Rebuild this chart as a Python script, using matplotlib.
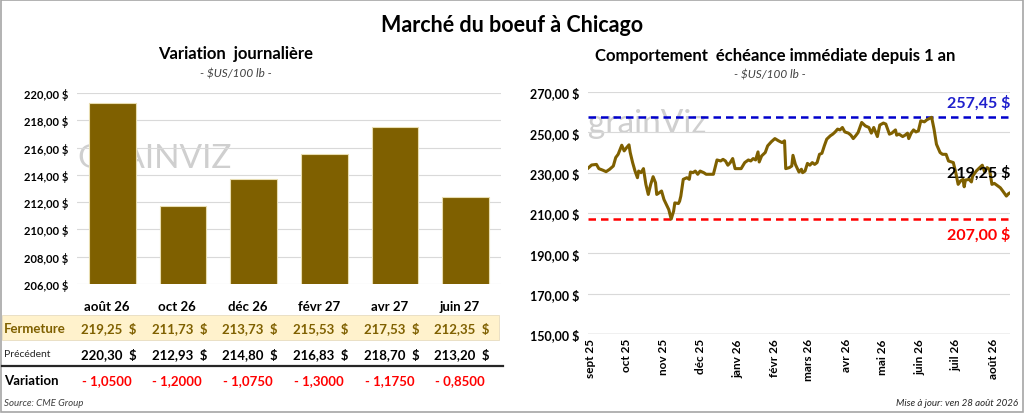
import pandas as pd
import matplotlib
matplotlib.use("Agg")
import matplotlib.pyplot as plt
import matplotlib.transforms as mtransforms
from matplotlib.patches import Rectangle
from matplotlib.ticker import FuncFormatter, FixedLocator

plt.rcParams['font.family'] = ['Lato', 'DejaVu Sans']

# Left panel: contracts
contracts = ["août 26", "oct 26", "déc 26", "févr 27", "avr 27", "juin 27"]
close_prices = [219.25, 211.73, 213.73, 215.53, 217.53, 212.35]
prev_prices = [220.30, 212.93, 214.80, 216.83, 218.70, 213.20]
variations = [-1.0500, -1.2000, -1.0750, -1.3000, -1.1750, -0.8500]

# Right panel: front month over one year (days since 2025-09-01)
days = [-2, 1, 5, 7, 10, 13, 16, 19, 21, 23, 26, 28, 30, 32, 33, 35, 37, 39, 40, 42,
        44, 46, 48, 50, 52, 54, 55, 57, 59, 61, 63, 65, 67, 69, 70, 73, 74, 75, 77, 80,
        82, 83, 85, 87, 89, 91, 94, 96, 102, 105, 108, 110, 112, 114, 116, 118, 120, 125,
        128, 131, 133, 135, 137, 139, 140, 142, 145, 147, 150, 153, 156, 159, 161, 162,
        165, 167, 168, 170, 173, 175, 176, 178, 180, 182, 184, 186, 188, 190, 192, 194,
        196, 199, 201, 203, 205, 207, 209, 211, 214, 216, 218, 220, 222, 225, 228, 231,
        233, 235, 238, 240, 243, 245, 248, 250, 253, 254, 256, 259, 261, 263, 264, 266,
        268, 270, 272, 274, 277, 279, 283, 285, 287, 290, 292, 295, 297, 301, 303, 305,
        307, 309, 310, 311, 314, 316, 317, 320, 322, 325, 327, 329, 331, 333, 335, 338,
        340, 342, 345, 347, 348]
prices = [232.2, 233.8, 234.1, 232.0, 231.3, 230.5, 231.7, 233.3, 237.5, 239.1, 243.6, 240.8,
          242.4, 243.8, 240.0, 235.0, 230.8, 227.5, 230.8, 230.0, 232.0, 224.2, 219.2, 224.2,
          228.0, 225.0, 219.2, 220.0, 220.9, 216.7, 214.2, 211.7, 207.0, 210.9, 215.0, 214.7,
          215.9, 218.4, 226.7, 227.5, 226.7, 230.3, 230.0, 230.8, 229.2, 230.8, 230.0, 229.2,
          229.2, 236.3, 235.8, 236.6, 235.8, 233.7, 235.0, 237.0, 232.0, 232.0, 235.0, 236.3,
          235.8, 237.0, 236.3, 240.3, 235.3, 238.3, 240.0, 243.3, 245.3, 246.9, 245.8, 244.9,
          245.8, 232.0, 232.5, 233.3, 238.6, 234.1, 230.3, 231.7, 230.0, 230.8, 234.6, 233.7,
          235.0, 234.1, 235.0, 239.1, 239.6, 243.3, 246.6, 248.3, 249.1, 250.2, 251.6, 251.2,
          252.4, 250.2, 249.6, 248.6, 246.9, 248.3, 249.9, 254.9, 253.2, 252.4, 249.6, 252.4,
          247.9, 253.6, 254.6, 254.1, 249.1, 249.6, 251.2, 248.6, 249.1, 247.9, 248.6, 249.6,
          246.9, 249.6, 251.2, 250.2, 250.7, 255.7, 255.2, 256.2, 257.45, 251.6, 244.1, 240.0,
          239.1, 239.1, 235.8, 235.0, 230.0, 224.2, 225.9, 226.7, 223.0, 226.3, 226.7, 225.4,
          228.3, 230.8, 232.0, 233.7, 230.3, 232.5, 231.7, 224.2, 224.7, 223.4, 222.5, 220.9,
          218.4, 219.7, 220.0]
month_labels = ["sept 25", "oct 25", "nov 25", "déc 25", "janv 26", "févr 26", "mars 26",
                "avr 26", "mai 26", "juin 26", "juil 26", "août 26"]
high_1y = 257.45
low_1y = 207.00
last_close = 219.25

GOLD = "#7F6000"
GRID = "#D9D9D9"
W, H = 1024, 414


def fx(px):
    return px / W


def fy(px):
    return 1 - px / H


def money(v, pos=None):
    return f"{v:.2f}".replace(".", ",") + " $"


fig = plt.figure(figsize=(W / 100, H / 100), dpi=100)
fig.patches.append(Rectangle((0.001, 0.002), 0.998, 0.996, transform=fig.transFigure,
                             fill=False, edgecolor="#A6A6A6", linewidth=1.2))

fig.text(0.5, fy(25), "Marché du boeuf à Chicago", ha="center", va="center",
         fontsize=15.5, fontweight="bold")

# ---- left: daily variation bars
ax1 = fig.add_axes([fx(77), fy(285), fx(501 - 77), (285 - 94) / H])
x = range(len(contracts))
ax1.bar(x, close_prices, width=0.66, color=GOLD, edgecolor="#E8DDB0", linewidth=0.8, zorder=2)
ax1.set_xlim(-0.5, len(contracts) - 0.5)
ax1.set_ylim(206, 220)
ax1.set_yticks(range(206, 221, 2))
ax1.yaxis.set_major_formatter(FuncFormatter(money))
ax1.set_xticks([])
ax1.grid(axis="y", color=GRID, linewidth=0.8, zorder=0)
for s in ax1.spines.values():
    s.set_visible(False)
ax1.tick_params(axis="y", length=0, labelsize=8, pad=6)
for lab in ax1.get_yticklabels():
    lab.set_fontweight("bold")
ax1.text(0.0, 0.66, "GRAINVIZ", transform=ax1.transAxes, fontsize=24, color="#CFCFCF",
         zorder=1, va="center")

fig.text(fx(236), fy(54), "Variation  journalière", ha="center", va="center",
         fontsize=12, fontweight="bold")
fig.text(fx(236), fy(74), "- $US/100 lb -", ha="center", va="center",
         fontsize=8.5, style="italic", color="#404040")

# table under the bars
tr = mtransforms.blended_transform_factory(ax1.transData, fig.transFigure)
fig.patches.append(Rectangle((0.002, fy(341)), fx(497), (341 - 316) / H, transform=fig.transFigure,
                             facecolor="#FFF2CC", edgecolor="#E6DCC0", linewidth=0.6, zorder=0))
fig.lines.append(plt.Line2D([0.002, fx(503)], [fy(367), fy(367)], transform=fig.transFigure,
                            color="#262626", linewidth=1.6))
for i in x:
    fig.text(i - 0.08, fy(307), contracts[i], transform=tr, ha="center", va="center",
             fontsize=9.5, fontweight="bold")
    fig.text(i - 0.05, fy(329), f"{close_prices[i]:.2f}".replace(".", ",") + "  $", transform=tr,
             ha="center", va="center", fontsize=9.5, fontweight="bold", color=GOLD)
    fig.text(i - 0.05, fy(355), f"{prev_prices[i]:.2f}".replace(".", ",") + "  $", transform=tr,
             ha="center", va="center", fontsize=9.5, fontweight="bold", color="black")
    fig.text(i - 0.08, fy(381), f"- {abs(variations[i]):.4f}".replace(".", ","), transform=tr,
             ha="center", va="center", fontsize=9.5, fontweight="bold", color="#FF0000")
fig.text(fx(4), fy(329), "Fermeture", ha="left", va="center", fontsize=9.5,
         fontweight="bold", color=GOLD)
fig.text(fx(4), fy(355), "Précédent", ha="left", va="center", fontsize=7.5, color="#262626")
fig.text(fx(4), fy(381), "Variation", ha="left", va="center", fontsize=9.5, fontweight="bold")
fig.text(fx(4), fy(404), "Source: CME Group", ha="left", va="center", fontsize=7,
         style="italic", color="#404040")

# ---- right: front month over one year
dates = pd.Timestamp("2025-09-01") + pd.to_timedelta(days, unit="D")
ax2 = fig.add_axes([fx(588), fy(335), fx(1010 - 588), (335 - 93) / H])
ax2.plot(dates, prices, color=GOLD, linewidth=2.2, zorder=3)
ax2.axhline(high_1y, color="#0000CC", linestyle=(0, (3, 2)), linewidth=1.8, zorder=2)
ax2.axhline(low_1y, color="#FF0000", linestyle=(0, (3, 2)), linewidth=1.8, zorder=2)
ax2.set_xlim(dates[0], dates[-1])
ax2.set_ylim(150, 270)
ax2.set_yticks(range(150, 271, 20))
ax2.yaxis.set_major_formatter(FuncFormatter(money))
ticks = pd.date_range("2025-09-01", periods=len(month_labels), freq="MS")
ax2.xaxis.set_major_locator(FixedLocator(matplotlib.dates.date2num(ticks)))
ax2.set_xticklabels(month_labels, rotation=90, fontsize=8.5, fontweight="bold")
ax2.grid(axis="y", color=GRID, linewidth=0.8, zorder=0)
for s in ax2.spines.values():
    s.set_visible(False)
ax2.axhline(150, color="#BFBFBF", linewidth=1, zorder=1)
ax2.tick_params(axis="y", length=0, labelsize=9, pad=6)
ax2.tick_params(axis="x", length=0, pad=3)
for lab in ax2.get_yticklabels():
    lab.set_fontweight("bold")
ax2.text(0.0, 0.87, "grainViz", transform=ax2.transAxes, fontsize=24, color="#CFCFCF",
         zorder=1, va="center")

ax2.text(1.0, high_1y + 3.5, money(high_1y), transform=ax2.get_yaxis_transform(), ha="right",
         va="bottom", fontsize=11.5, fontweight="bold", color="#1F1FCC")
ax2.text(1.0, low_1y - 3.5, money(low_1y), transform=ax2.get_yaxis_transform(), ha="right",
         va="top", fontsize=11.5, fontweight="bold", color="#FF0000")
ax2.text(1.0, last_close + 11, money(last_close), transform=ax2.get_yaxis_transform(),
         ha="right", va="center", fontsize=11.5, fontweight="bold", color="black", zorder=4)

fig.text(fx(775), fy(56), "Comportement  échéance immédiate depuis 1 an", ha="center",
         va="center", fontsize=12, fontweight="bold")
fig.text(fx(770), fy(75), "- $US/100 lb -", ha="center", va="center",
         fontsize=8.5, style="italic", color="#404040")
fig.text(fx(1018), fy(404), "Mise à jour: ven 28 août 2026", ha="right", va="center",
         fontsize=7, style="italic", color="#262626")

fig.savefig("out.png", dpi=100)
